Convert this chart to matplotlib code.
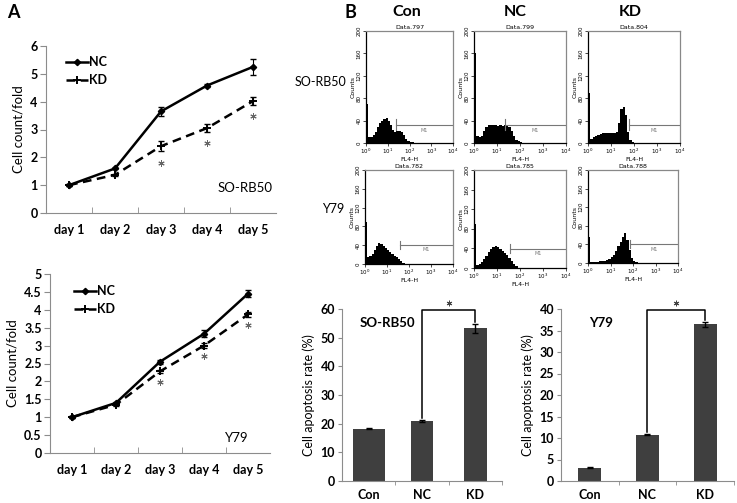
import matplotlib
matplotlib.use('Agg')
import matplotlib.pyplot as plt
import numpy as np
from matplotlib.ticker import FixedLocator, NullLocator

plt.rcParams['font.family'] = ['Lato', 'DejaVu Sans']

# ---------------- data ----------------
days = ['day 1', 'day 2', 'day 3', 'day 4', 'day 5']
sorb_nc = [1.0, 1.6, 3.65, 4.58, 5.25]
sorb_nc_err = [0.03, 0.03, 0.15, 0.05, 0.28]
sorb_kd = [1.0, 1.37, 2.4, 3.05, 4.02]
sorb_kd_err = [0.03, 0.03, 0.18, 0.15, 0.15]
sorb_star_y = [1.8, 2.5, 3.5]

y79_nc = [1.0, 1.4, 2.55, 3.33, 4.45]
y79_nc_err = [0.02, 0.03, 0.05, 0.1, 0.1]
y79_kd = [1.0, 1.35, 2.28, 3.0, 3.87]
y79_kd_err = [0.02, 0.03, 0.04, 0.06, 0.06]
y79_star_y = [1.98, 2.7, 3.57]
star_days = [3, 4, 5]

groups = ['Con', 'NC', 'KD']
apop_sorb = [18.3, 21.0, 53.2]
apop_sorb_err = [0.3, 0.3, 1.5]
apop_y79 = [3.1, 10.8, 36.4]
apop_y79_err = [0.15, 0.15, 0.5]

# flow cytometry histograms: bin positions (log10 of FL4-H) and counts
hist_exp = [0.0, 0.1, 0.2, 0.3, 0.4, 0.5, 0.6, 0.7, 0.8, 0.9, 1.0, 1.1, 1.2,
            1.3, 1.4, 1.5, 1.6, 1.7, 1.8, 1.9, 2.0, 2.1, 2.2, 2.3, 2.4]
h_sorb_con = [70, 10, 10, 15, 20, 28, 35, 40, 43, 44, 40, 33, 24, 20, 21, 22, 20, 15, 8, 4, 2, 1, 0, 0, 0]
h_sorb_nc = [160, 12, 10, 12, 22, 28, 32, 33, 32, 33, 30, 32, 30, 33, 32, 28, 22, 12, 6, 3, 1, 0, 0, 0, 0]
h_sorb_kd = [90, 8, 10, 12, 14, 16, 18, 18, 18, 18, 18, 18, 20, 35, 60, 65, 50, 20, 6, 2, 0, 0, 0, 0, 0]
h_y79_con = [90, 14, 18, 22, 30, 38, 44, 42, 38, 34, 30, 26, 22, 18, 14, 10, 6, 3, 1, 0, 0, 0, 0, 0, 0]
h_y79_nc = [90, 6, 8, 12, 18, 25, 32, 38, 43, 45, 42, 38, 34, 30, 26, 20, 14, 8, 4, 1, 0, 0, 0, 0, 0]
h_y79_kd = [55, 2, 2, 3, 3, 4, 4, 5, 6, 8, 12, 18, 26, 36, 46, 55, 65, 50, 28, 10, 4, 2, 1, 0, 0]
hist_titles = ['Data.797', 'Data.799', 'Data.804', 'Data.782', 'Data.785', 'Data.788']
m1_start = [1.36, 1.35, 1.78, 1.57, 1.58, 1.85]
m1_level = [32, 32, 32, 40, 39, 40]

# ---------------- figure ----------------
W, H = 737, 503
fig = plt.figure(figsize=(W / 100, H / 100), dpi=100)


def px_axes(x0, y0, x1, y1):
    return fig.add_axes([x0 / W, 1 - y1 / H, (x1 - x0) / W, (y1 - y0) / H])


spine_col = '#8c8c8c'


def line_panel(ax, nc, nc_err, kd, kd_err, star_y, ymax, ystep, label, lab_xy, leg_anchor):
    x = np.arange(1, 6)
    ax.plot(x, nc, color='black', lw=1.8, marker='D', ms=3.2, label='NC', zorder=3)
    ax.plot(x, kd, color='black', lw=1.8, ls=(0, (3.5, 2.2)), marker='+', ms=5.5, mew=1.4,
            label='KD', zorder=3)
    ax.errorbar(x, nc, yerr=nc_err, fmt='none', ecolor='black', elinewidth=0.8, capsize=2)
    ax.errorbar(x, kd, yerr=kd_err, fmt='none', ecolor='black', elinewidth=0.8, capsize=2)
    ax.plot(star_days, star_y, ls='none', marker=(6, 2, 0), ms=4.5, mew=0.7, color='#666666')
    ax.set_xlim(0.5, 5.5)
    ax.set_ylim(0, ymax)
    ax.set_xticks(x)
    ax.set_xticklabels(days, fontsize=9, fontweight='bold')
    ax.xaxis.set_minor_locator(FixedLocator([1.5, 2.5, 3.5, 4.5]))
    ax.tick_params(axis='x', which='major', length=0, pad=8)
    ax.tick_params(axis='x', which='minor', length=4, direction='in', color=spine_col)
    ticks = np.arange(0, ymax + 1e-9, ystep)
    ax.set_yticks(ticks)
    ax.set_yticklabels([('%g' % t) for t in ticks], fontsize=9, fontweight='bold')
    ax.tick_params(axis='y', length=4, color=spine_col, pad=2)
    for s in ['top', 'right']:
        ax.spines[s].set_visible(False)
    for s in ['left', 'bottom']:
        ax.spines[s].set_color(spine_col)
    ax.set_ylabel('Cell count/fold', fontsize=9.5)
    ax.text(lab_xy[0], lab_xy[1], label, ha='center', va='center', fontsize=9.5)
    ax.legend(loc='upper left', bbox_to_anchor=leg_anchor, frameon=False,
              handlelength=1.7, handletextpad=0.1, labelspacing=0.45,
              prop={'weight': 'bold', 'size': 9})


axA1 = px_axes(46, 46, 276, 213)
line_panel(axA1, sorb_nc, sorb_nc_err, sorb_kd, sorb_kd_err, sorb_star_y, 6, 1,
           'SO-RB50', (4.83, 0.9), (0.04, 1.005))
axA2 = px_axes(50, 274, 270, 453)
line_panel(axA2, y79_nc, y79_nc_err, y79_kd, y79_kd_err, y79_star_y, 5, 0.5,
           'Y79', (4.75, 0.42), (0.06, 1.0))

# ---------------- histograms ----------------
hist_boxes = [(366, 31, 453, 143), (474, 31, 566, 143), (588, 31, 680, 143),
              (365, 170, 453, 264), (474, 170, 566, 268), (588, 170, 678, 263)]
hist_data = [h_sorb_con, h_sorb_nc, h_sorb_kd, h_y79_con, h_y79_nc, h_y79_kd]

for box, counts, title, ms, ml in zip(hist_boxes, hist_data, hist_titles, m1_start, m1_level):
    ax = px_axes(*box)
    xs = 10 ** np.array(hist_exp)
    ax.fill_between(xs, counts, step='post', color='black', lw=0)
    ax.set_xscale('log')
    ax.set_xlim(1, 1e4)
    ax.set_ylim(0, 200)
    ax.plot([10 ** ms, 1e4], [ml, ml], color='#777777', lw=0.8)
    ax.plot([10 ** ms, 10 ** ms], [ml - 8, ml + 10], color='#777777', lw=0.8)
    ax.text(10 ** ((ms + 4) / 2), ml - 10, 'M1', fontsize=3.5, ha='center', va='center',
            color='#777777', family='DejaVu Sans')
    ax.set_xticks([1, 10, 100, 1000, 10000])
    ax.set_xticklabels(['$10^0$', '$10^1$', '$10^2$', '$10^3$', '$10^4$'], fontsize=4)
    ax.xaxis.set_minor_locator(NullLocator())
    ax.set_yticks([0, 40, 80, 120, 160, 200])
    ax.set_yticklabels(['0', '40', '80', '120', '160', '200'], fontsize=4, rotation=90,
                       va='center', family='DejaVu Sans')
    ax.tick_params(length=2, width=0.5, pad=1)
    for s in ax.spines.values():
        s.set_color('#888888')
        s.set_linewidth(0.9)
    ax.spines['left'].set_color('black')
    ax.spines['left'].set_linestyle((0, (2, 1)))
    ax.spines['bottom'].set_color('black')
    ax.set_title(title, fontsize=4.5, pad=1.5, family='DejaVu Sans')
    ax.set_xlabel('FL4-H', fontsize=4.5, labelpad=0.5, family='DejaVu Sans')
    ax.set_ylabel('Counts', fontsize=4.5, labelpad=1, family='DejaVu Sans')

fig.text(407 / W, 1 - 12 / H, 'Con', fontsize=11.5, fontweight='bold', ha='center', va='center')
fig.text(515 / W, 1 - 12 / H, 'NC', fontsize=11.5, fontweight='bold', ha='center', va='center')
fig.text(630 / W, 1 - 12 / H, 'KD', fontsize=11.5, fontweight='bold', ha='center', va='center')
fig.text(346 / W, 1 - 82 / H, 'SO-RB50', fontsize=9, ha='right', va='center')
fig.text(333 / W, 1 - 209 / H, 'Y79', fontsize=9, ha='center', va='center')

fig.text(13 / W, 1 - 12 / H, 'A', fontsize=13, fontweight='bold', ha='center', va='center')
fig.text(350 / W, 1 - 12 / H, 'B', fontsize=13, fontweight='bold', ha='center', va='center')

# ---------------- bar charts ----------------
def bar_panel(ax, vals, errs, widths, ymax, ystep, label, lab_xy, bracket_top, star_y):
    x = np.arange(3)
    ax.bar(x, vals, width=widths, color='#3f3f3f', yerr=errs, capsize=2,
           error_kw=dict(elinewidth=1, capthick=1, ecolor='black'))
    ax.set_xlim(-0.5, 2.5)
    ax.set_ylim(0, ymax)
    ax.set_xticks(x)
    ax.set_xticklabels(groups, fontsize=9, fontweight='bold')
    ax.xaxis.set_minor_locator(FixedLocator([0.5, 1.5, 2.5]))
    ax.tick_params(axis='x', which='major', length=0, pad=6)
    ax.tick_params(axis='x', which='minor', length=3, color=spine_col)
    ax.set_yticks(np.arange(0, ymax + 1e-9, ystep))
    ax.tick_params(axis='y', length=3, color=spine_col, labelsize=9, pad=2)
    for t in ax.get_yticklabels():
        t.set_fontweight('bold')
    for s in ['top', 'right']:
        ax.spines[s].set_visible(False)
    for s in ['left', 'bottom']:
        ax.spines[s].set_color(spine_col)
    ax.set_ylabel('Cell apoptosis rate (%)', fontsize=9)
    ax.text(lab_xy[0], lab_xy[1], label, ha='center', va='center', fontsize=9.5, fontweight='bold')
    y_nc = vals[1] + errs[1] + ymax * 0.012
    y_kd = vals[2] + errs[2] + ymax * 0.012
    ax.plot([1, 1, 2, 2], [y_nc, bracket_top, bracket_top, y_kd], color='black', lw=1.1,
            clip_on=False)
    ax.plot([1.5], [star_y], ls='none', marker=(6, 2, 0), ms=4, mew=0.7, color='#444444',
            clip_on=False)


axB1 = px_axes(342, 309, 502, 481)
bar_panel(axB1, apop_sorb, apop_sorb_err, [0.6, 0.43, 0.43], 60, 10, 'SO-RB50',
          (0.35, 55.2), 59.7, 62.0)
axB2 = px_axes(561, 309, 734, 481)
bar_panel(axB2, apop_y79, apop_y79_err, [0.4, 0.4, 0.4], 40, 5, 'Y79',
          (0.2, 36.7), 39.8, 41.4)

fig.savefig('out.png', dpi=100)
